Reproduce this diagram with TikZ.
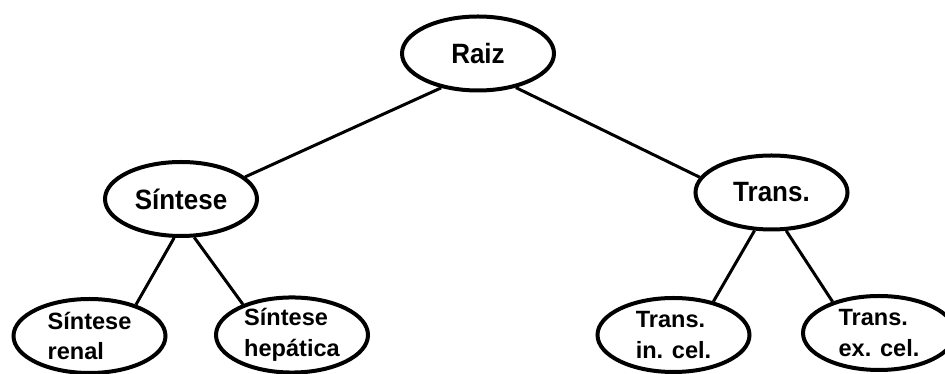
\documentclass[tikz,border=0pt]{standalone}
\usepackage{fontspec}
\setmainfont{Liberation Sans}
\newfontfamily\narrowsans{Liberation Sans}[FakeStretch=0.93]
\usetikzlibrary{shapes.geometric}
\begin{document}
\begin{tikzpicture}[
  topic/.style={ellipse, draw=black, line width=0.08cm, fill=white,
    minimum width=3.04cm, minimum height=1.48cm, inner sep=0pt,
    align=left, font=\narrowsans\bfseries\fontsize{15.9}{18}\selectfont},
  leaf/.style={topic, font=\bfseries\fontsize{13.4}{17.6}\selectfont},
  link/.style={line width=0.06cm, draw=black}
]
% page area (the right-most leaf runs past the edge)
\clip (0,0) rectangle (18.9,7.48);
\fill[white] (0,0) rectangle (18.9,7.48);

% tree nodes
\node[topic] (raiz)  at (9.56,6.41)  {Raiz};
\node[topic] (sint)  at (3.62,3.50)  {Síntese};
\node[topic] (trans) at (15.43,3.63) {Trans.};

\node[leaf] (renal) at (1.79,0.76)  {Síntese\\renal};
\node[leaf] (hepa)  at (5.84,0.78)  {Síntese\\hepática};
\node[leaf] (incel) at (13.47,0.78) {Trans.\\in. cel.};
\node[leaf] (excel) at (17.58,0.82) {Trans.\\ex. cel.};

% branches
\draw[link] (raiz.223)  -- (sint.19);
\draw[link] (raiz.318)  -- (trans.168);
\draw[link] (sint.260)  -- (renal.34);
\draw[link] (sint.289)  -- (hepa.148);
\draw[link] (trans.246) -- (incel.40);
\draw[link] (trans.291) -- (excel.146);
\end{tikzpicture}
\end{document}
